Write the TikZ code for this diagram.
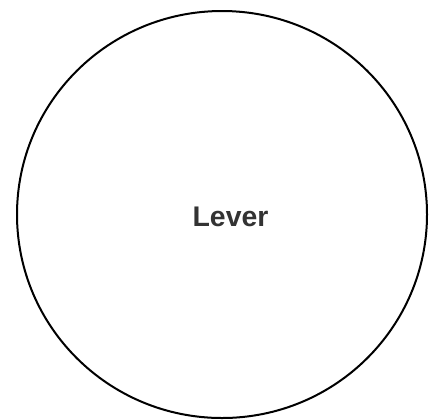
\documentclass[tikz,border=0pt]{standalone}
\usepackage{fontspec}
\setsansfont{Liberation Sans}
\usepackage{xcolor}
\usepackage{tikz}

\definecolor{labelgray}{HTML}{333333}

\begin{document}
\begin{tikzpicture}[x=1bp,y=-1bp,
    rim/.style={draw=black,line width=2bp},
    leverlabel/.style={font=\sffamily\bfseries\fontsize{28.5}{34}\selectfont,text=labelgray,inner sep=0pt}]
  \useasboundingbox (0,0) rectangle (439,419);
  \coordinate (hub) at (222,214.5);
  \draw[rim] (hub) ellipse [x radius=205,y radius=203.5];
  \node[leverlabel] (lever) at (230.5,216.5) {Lever};
\end{tikzpicture}
\end{document}
